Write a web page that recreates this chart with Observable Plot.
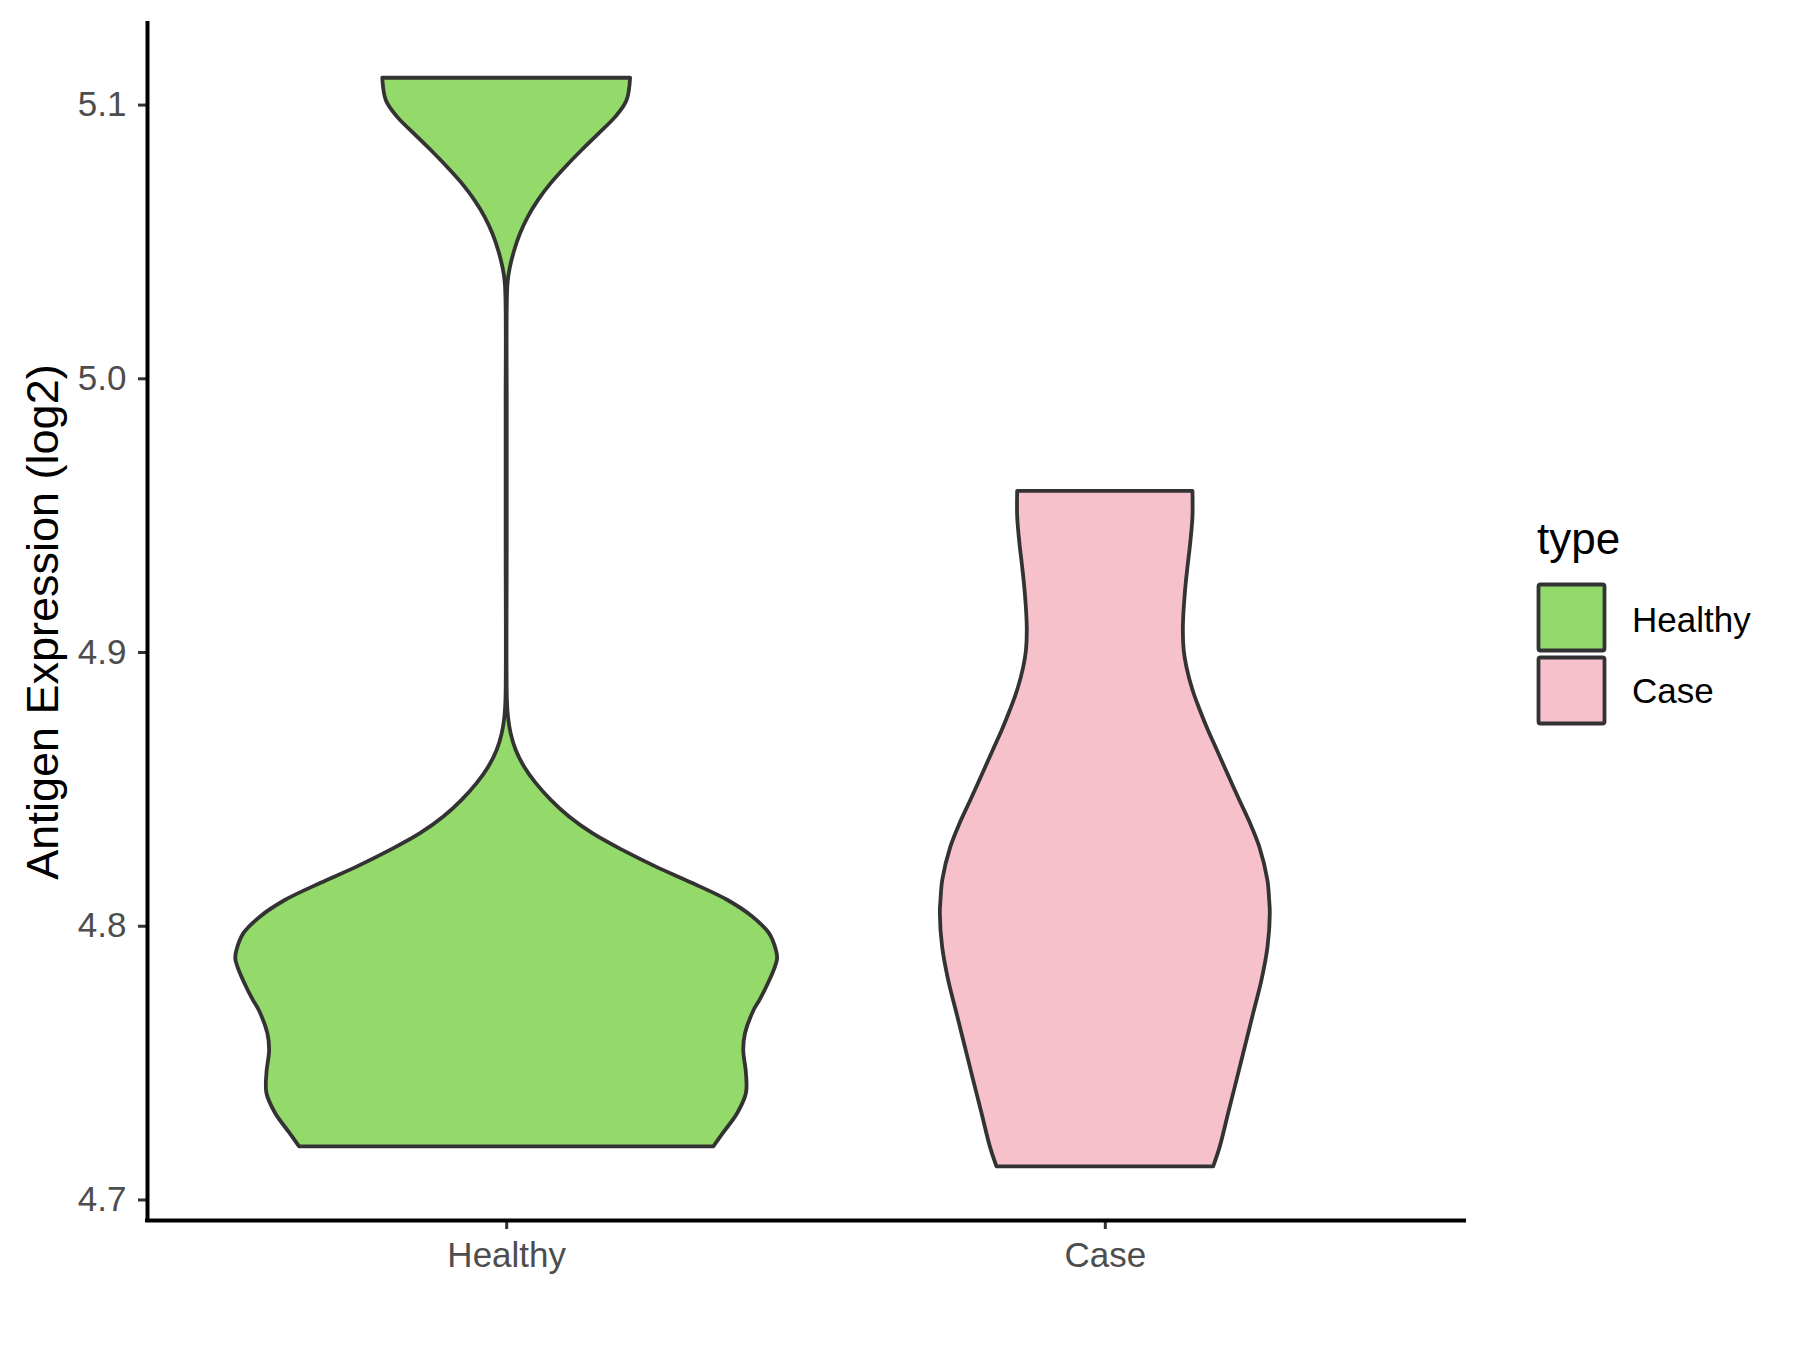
<!DOCTYPE html>
<html>
<head>
<meta charset="utf-8">
<script src="https://cdn.jsdelivr.net/npm/d3@7"></script>
<script src="https://cdn.jsdelivr.net/npm/@observablehq/plot@0.6"></script>
<style>
  html, body { margin: 0; padding: 0; background: #ffffff; }
  #chart { width: 1800px; height: 1350px; }
</style>
</head>
<body>
<div id="chart"></div>
<script>
// ---- data ----
const groups = ["Healthy", "Case"];
const groupColors = ["#93DA6A", "#F7C1CB"];
const yTicks = [4.7, 4.8, 4.9, 5.0, 5.1];
const yTitle = "Antigen Expression (log2)";
const legendTitle = "type";

// violin outlines: expression value and half-width (in category units)
const healthyY = [5.1098, 5.1016, 5.0955, 5.0894, 5.0834, 5.0773, 5.0712, 5.0651, 5.0590, 5.0529, 5.0468, 5.0407, 5.0347,
  4.99, 4.94, 4.8825, 4.8764, 4.8703, 4.8642, 4.8581, 4.8521, 4.8460, 4.8399, 4.8338, 4.8277, 4.8216, 4.8156, 4.8095,
  4.8034, 4.7973, 4.7912, 4.7880, 4.7851, 4.7790, 4.7729, 4.7693, 4.7608, 4.7547, 4.7462, 4.7389, 4.7316, 4.7243, 4.7194];
const healthyW = [0.207, 0.201, 0.182, 0.154, 0.126, 0.099, 0.074, 0.053, 0.036, 0.023, 0.0134, 0.0063, 0.0022,
  0.0009, 0.0009, 0.0012, 0.003, 0.0075, 0.0160, 0.0300, 0.0495, 0.0745, 0.1050, 0.1440, 0.1940, 0.2500, 0.3110, 0.3690,
  0.4110, 0.4390, 0.4505, 0.4525, 0.4490, 0.4372, 0.4232, 0.4135, 0.3990, 0.3960, 0.4005, 0.4005, 0.3860, 0.3620, 0.3460];

const caseY = [4.9589, 4.9495, 4.9397, 4.9312, 4.9215, 4.9093, 4.9008, 4.8947, 4.8862, 4.8789, 4.8716, 4.8643, 4.8557,
  4.8460, 4.8375, 4.8289, 4.8168, 4.8095, 4.8046, 4.7924, 4.7802, 4.7681, 4.7559, 4.7437, 4.7316, 4.7194, 4.7121];
const caseW = [0.1464, 0.1464, 0.1426, 0.1381, 0.1336, 0.1304, 0.1317, 0.1362, 0.1464, 0.1585, 0.1720, 0.1870, 0.2045,
  0.2245, 0.2425, 0.2580, 0.2715, 0.2745, 0.2756, 0.2718, 0.2617, 0.2478, 0.2339, 0.2200, 0.2060, 0.1921, 0.1810];

const yDomain = [4.6925, 5.1298];
const xDomain = [0.4, 2.6];

// ---- build table ----
const rows = [
  ...healthyY.map((v, i) => ({type: groups[0], pos: 1, v, w: healthyW[i]})),
  ...caseY.map((v, i) => ({type: groups[1], pos: 2, v, w: caseW[i]}))
];

const font = "'Liberation Sans', Arial, Helvetica, sans-serif";

const chart = Plot.plot({
  width: 1800,
  height: 1350,
  marginLeft: 147,
  marginRight: 336,
  marginTop: 23,
  marginBottom: 130,
  style: {fontFamily: font, background: "#ffffff", overflow: "visible"},
  x: {domain: xDomain, axis: null},
  y: {domain: yDomain, axis: null},
  color: {domain: groups, range: groupColors},
  marks: [
    Plot.areaX(rows, {
      y: "v",
      x1: d => d.pos - d.w,
      x2: d => d.pos + d.w,
      fill: "type",
      z: "type",
      stroke: "#333333",
      strokeWidth: 3.8,
      strokeLinejoin: "round",
      curve: "catmull-rom"
    }),
    Plot.axisY({
      ticks: yTicks,
      tickFormat: d => d.toFixed(1),
      tickSize: 9,
      tickPadding: 12,
      fontSize: 35,
      fill: "#4D4D4D",
      stroke: "#333333",
      strokeWidth: 3,
      label: null
    }),
    Plot.axisX({
      ticks: [1, 2],
      tickFormat: d => groups[d - 1],
      tickSize: 9,
      tickPadding: 13,
      fontSize: 35,
      fill: "#4D4D4D",
      stroke: "#333333",
      strokeWidth: 3,
      label: null
    }),
    Plot.ruleX([xDomain[0]], {stroke: "#000000", strokeWidth: 4, strokeLinecap: "square"}),
    Plot.ruleY([yDomain[0]], {stroke: "#000000", strokeWidth: 4, strokeLinecap: "square"}),
    Plot.text([yTitle], {
      frameAnchor: "left",
      rotate: -90,
      dx: -90,
      fontSize: 45,
      fill: "#000000",
      textAnchor: "middle",
      lineAnchor: "bottom"
    })
  ]
});

document.getElementById("chart").appendChild(chart);

// ---- legend (right side) ----
const svg = d3.select(chart);
const lg = svg.append("g").attr("font-family", font).attr("text-anchor", "start");
lg.append("text")
  .attr("x", 1537).attr("y", 554)
  .attr("font-size", 44).attr("fill", "#000")
  .attr("text-anchor", "start")
  .text(legendTitle);
const keyTop = [584.5, 657.5];
const labelBase = [632, 703];
groups.forEach((g, i) => {
  lg.append("rect")
    .attr("x", 1538.5).attr("y", keyTop[i])
    .attr("width", 66).attr("height", 66)
    .attr("rx", 2)
    .attr("fill", groupColors[i])
    .attr("stroke", "#333333").attr("stroke-width", 3.8);
  lg.append("text")
    .attr("x", 1632).attr("y", labelBase[i])
    .attr("font-size", 35).attr("fill", "#000")
    .attr("text-anchor", "start")
    .text(g);
});
</script>
</body>
</html>
